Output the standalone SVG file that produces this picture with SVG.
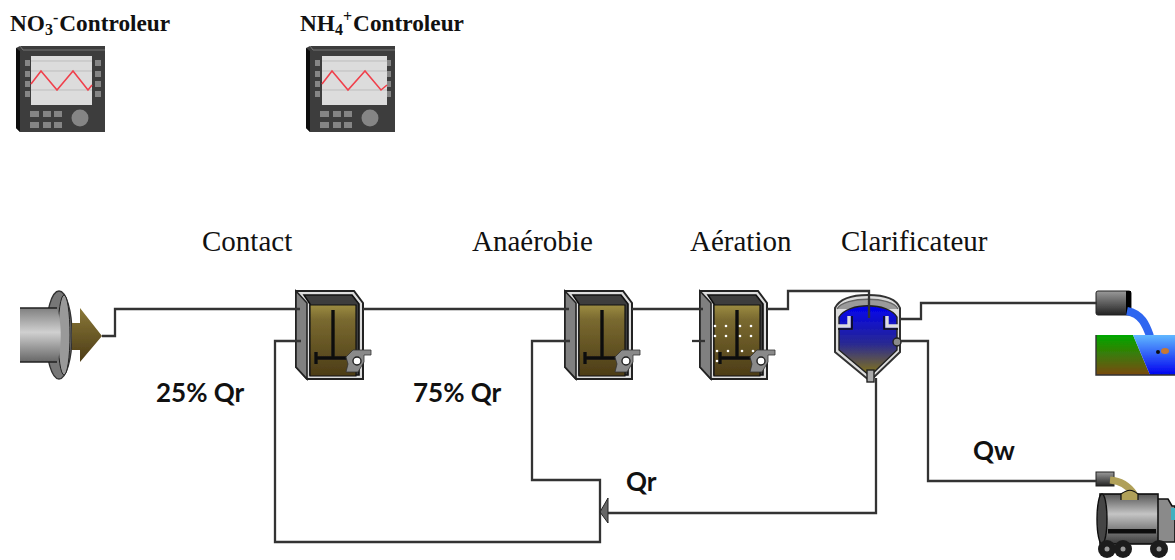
<svg xmlns="http://www.w3.org/2000/svg" width="1175" height="560" viewBox="0 0 1175 560">
<style>
.ser{font-family:"Liberation Serif","Times New Roman",serif;font-size:29px;fill:#111}
.ctl{font-family:"Liberation Serif","Times New Roman",serif;font-size:23.300px;font-weight:bold;fill:#111}
.sub{font-size:16px}
.lbl{font-family:Lato,"Open Sans",sans-serif;font-size:26px;font-weight:bold;fill:#111}
.conn{fill:none;stroke:#333;stroke-width:2.3}
.red{fill:none;stroke:#f0404c;stroke-width:1.6}
.btn{fill:#858585}
.soft{filter:url(#soft)}
</style>
<defs>
<filter id="soft" x="-5%" y="-5%" width="110%" height="110%"><feGaussianBlur stdDeviation="0.55"/></filter>
<linearGradient id="gOlive" x1="0" y1="0" x2="0" y2="1"><stop offset="0" stop-color="#9c8c42"/><stop offset=".2" stop-color="#7a6a30"/><stop offset="1" stop-color="#4c3c16"/></linearGradient>
<linearGradient id="gArrow" x1="0" y1="0" x2="0" y2="1"><stop offset="0" stop-color="#8a7838"/><stop offset="1" stop-color="#4c3c16"/></linearGradient>
<linearGradient id="gPipe" x1="0" y1="0" x2="0" y2="1"><stop offset="0" stop-color="#808080"/><stop offset=".45" stop-color="#d0d0d0"/><stop offset="1" stop-color="#666"/></linearGradient>
<linearGradient id="gDrum" x1="0" y1="0" x2="0" y2="1"><stop offset="0" stop-color="#555"/><stop offset=".4" stop-color="#c4c4c4"/><stop offset="1" stop-color="#3c3c3c"/></linearGradient>
<linearGradient id="gCap" x1="0" y1="0" x2="0" y2="1"><stop offset="0" stop-color="#9a9a9a"/><stop offset="1" stop-color="#222"/></linearGradient>
<linearGradient id="gClar" x1="0" y1="0" x2="0" y2="1"><stop offset="0" stop-color="#0000f0"/><stop offset=".55" stop-color="#2a2a90"/><stop offset="1" stop-color="#8a7a10"/></linearGradient>
<linearGradient id="gGreen" x1="0" y1="0" x2="0" y2="1"><stop offset="0" stop-color="#00a800"/><stop offset="1" stop-color="#7a4a10"/></linearGradient>
<linearGradient id="gBlue" x1="0" y1="0" x2="0" y2="1"><stop offset="0" stop-color="#60b8ff"/><stop offset="1" stop-color="#0000f0"/></linearGradient>
<g id="tank">
<path d="M0 1H58L67 13V89H11L0 77Z" fill="#ddd" stroke="#222" stroke-width="2"/>
<path d="M0 1L11 13V89L0 77Z" fill="#808080" stroke="#222" stroke-width="1.6"/>
<path d="M8 5H56L63 14V85H14V14Z" fill="#3c3c3c" stroke="#111" stroke-width="1.6"/>
<path d="M14 15H60V86H14Z" fill="url(#gOlive)" stroke="#111" stroke-width="1.2"/>
<path d="M37 20V68M20 68H54M20 62V74" fill="none" stroke="#111" stroke-width="3.4"/>
<path d="M50 67L57 60H75V65H68V72L62 82H50L52 74Z" fill="#8a8a8a" stroke="#333" stroke-width=".8"/>
<circle cx="61" cy="71" r="4" fill="#fff" stroke="#222" stroke-width="1.4"/>
</g>
<g id="ctlBody">
<path d="M0 2L4 0H89V86H4L0 82Z" fill="#3c3c3c"/>
<path d="M0 2L4 5V86L0 82Z" fill="#111"/>
<path d="M4 0L7 4H89" fill="none" stroke="#777" stroke-width="1"/>
<g class="btn"><rect x="9" y="14" width="5" height="6"/><rect x="9" y="25" width="5" height="6"/><rect x="9" y="35" width="5" height="6"/><rect x="9" y="45" width="5" height="6"/><rect x="79" y="14" width="6" height="6"/><rect x="79" y="25" width="6" height="6"/><rect x="79" y="35" width="6" height="6"/><rect x="79" y="45" width="6" height="6"/>
<rect x="14" y="65" width="9" height="6"/><rect x="27" y="65" width="8" height="6"/><rect x="38" y="65" width="8" height="6"/><rect x="14" y="76" width="9" height="6"/><rect x="27" y="76" width="8" height="6"/><rect x="38" y="76" width="8" height="6"/><circle cx="64" cy="72" r="8.500"/></g>
</g>
</defs>

<g id="ctl-no3">
<g class="soft"><use href="#ctlBody" x="16" y="46"/>
<rect x="31" y="56" width="61" height="49" fill="#dcdcdc"/>
<path d="M31 61H92M31 71H92M31 90H92" stroke="#bdbdbd" stroke-width="1" fill="none"/>
<polyline class="red" points="31,84 41,71 57,90 73,71 88,90 92,85"/></g>
<text class="ctl" x="10" y="31">NO<tspan class="sub" dy="4">3</tspan><tspan class="sub" dy="-12">-</tspan><tspan dx="1" dy="8">Controleur</tspan></text>
</g>
<g id="ctl-nh4">
<g class="soft"><use href="#ctlBody" x="306" y="46"/>
<rect x="322" y="56" width="65" height="49" fill="#dcdcdc"/>
<path d="M322 61H387M322 71H387M322 90H387" stroke="#bdbdbd" stroke-width="1" fill="none"/>
<polyline class="red" points="322,84 332,71 348,90 365,71 381,90 387,85"/></g>
<text class="ctl" x="300" y="31">NH<tspan class="sub" dy="4">4</tspan><tspan class="sub" dy="-13">+</tspan><tspan dx="1" dy="9">Controleur</tspan></text>
</g>

<g id="influent" class="soft">
<ellipse cx="59" cy="335" rx="13" ry="44" fill="#777" stroke="#333" stroke-width="1.4"/>
<ellipse cx="64" cy="335" rx="6" ry="40" fill="#999" stroke="#222" stroke-width="1"/>
<path d="M20 308H57C62 322 62 350 57 362H20Z" fill="url(#gPipe)"/>
<path d="M20 308H57M20 362H57" stroke="#222" stroke-width="1.4" fill="none"/>
<path d="M72 323H80V308L102 336L80 362V350H72Z" fill="url(#gArrow)"/>
</g>

<g id="contact" class="soft"><use href="#tank" x="296" y="290"/></g>
<g id="anaerobie" class="soft"><use href="#tank" x="565" y="290"/></g>
<g id="aeration" class="soft"><use href="#tank" x="700" y="290"/>
<g fill="#fff"><circle cx="715" cy="326" r="1.300"/><circle cx="726" cy="326" r="1.300"/><circle cx="740" cy="326" r="1.300"/><circle cx="751" cy="326" r="1.300"/><circle cx="715" cy="336" r="1.300"/><circle cx="726" cy="336" r="1.300"/><circle cx="740" cy="336" r="1.300"/><circle cx="751" cy="336" r="1.300"/><circle cx="717" cy="351" r="1.300"/><circle cx="728" cy="351" r="1.300"/><circle cx="742" cy="351" r="1.300"/><circle cx="753" cy="351" r="1.300"/><circle cx="717" cy="361" r="1.300"/></g>
</g>

<g id="clarificateur" class="soft">
<path d="M835 352V308C840 298 855 295 868 295C882 295 896 298 900 308V352L870 381Z" fill="#ddd" stroke="#333" stroke-width="2"/>
<path d="M837 309C844 296 892 296 898 309" fill="#9a9a9a" stroke="#666" stroke-width="1.400"/>
<path d="M839 350V317C848 302 888 302 897 317V350L870 376Z" fill="url(#gClar)" stroke="#222" stroke-width="1.400"/>
<path d="M838 326H849V316M898 326H887V316" fill="none" stroke="#ddd" stroke-width="3.400"/>
<path d="M838 329H852V316M898 329H884V316" fill="none" stroke="#111" stroke-width="1.600"/>
<circle cx="897" cy="342" r="4" fill="#8a8a8a" stroke="#222" stroke-width="1.400"/>
<rect x="867" y="370" width="7" height="12" fill="#aaa" stroke="#222" stroke-width="1.400"/>
</g>

<g id="effluent" class="soft">
<rect x="1096" y="291" width="35" height="24" rx="2" fill="url(#gCap)" stroke="#222" stroke-width="1"/>
<rect x="1126" y="291" width="5" height="24" fill="#000"/>
<path d="M1127 311C1142 314 1146 325 1150 336" fill="none" stroke="#2f66f0" stroke-width="8"/>
<path d="M1096 335H1133L1150 375H1096Z" fill="url(#gGreen)"/>
<path d="M1133 335H1175V375H1150Z" fill="url(#gBlue)"/>
<path d="M1096 335V375H1175" fill="none" stroke="#333" stroke-width="1.400"/>
<ellipse cx="1165" cy="351" rx="4" ry="3" fill="#c87830"/>
<circle cx="1158" cy="352" r="2" fill="#111"/>
</g>

<g id="camion" class="soft">
<path d="M1156 499H1168L1172 506H1175V542H1156Z" fill="#8a8a8a" stroke="#111" stroke-width="1.600"/>
<rect x="1171" y="508" width="4" height="12" fill="#40b0c0"/>
<rect x="1096" y="472" width="18" height="14" fill="url(#gCap)" stroke="#222" stroke-width="1"/>
<path d="M1110 480C1122 481 1130 488 1134 494" fill="none" stroke="#b0a058" stroke-width="7"/>
<rect x="1100" y="494" width="58" height="50" fill="url(#gDrum)" stroke="#111" stroke-width="1.600"/>
<ellipse cx="1102" cy="519" rx="5" ry="25" fill="#444" stroke="#111" stroke-width="1.400"/>
<path d="M1121 500V494C1128 489 1132 489 1138 494V500" fill="#b0a058" stroke="#111" stroke-width="1.200"/>
<rect x="1108" y="529" width="48" height="4.500" fill="#111"/>
<g fill="#1c1c1c"><circle cx="1107" cy="549" r="9"/><circle cx="1123" cy="549" r="9"/><circle cx="1159" cy="549" r="9"/></g>
<g fill="#999"><circle cx="1107" cy="549" r="2.500"/><circle cx="1123" cy="549" r="2.500"/><circle cx="1159" cy="549" r="2.500"/></g>
</g>

<g id="connectors">
<path class="conn" d="M102 336H115V309H300"/>
<path class="conn" d="M363 309H569"/>
<path class="conn" d="M632 309H703"/>
<path class="conn" d="M767 309H788V291H869V318"/>
<path class="conn" d="M692 341H705"/>
<path class="conn" d="M900 319H921V303H1097"/>
<path class="conn" d="M900 341H928V481H1097"/>
<path class="conn" d="M876 378V513H608"/>
<path class="conn" d="M570 341H532V480H600V542H275V341H301"/>
<polygon points="600,512 608,498 608,523" fill="#666" stroke="#222" stroke-width="1"/>
</g>

<g id="labels">
<text class="ser" x="202" y="251">Contact</text>
<text class="ser" x="472" y="251">Anaérobie</text>
<text class="ser" x="690" y="251">Aération</text>
<text class="ser" x="841" y="251">Clarificateur</text>
<text class="lbl" x="156" y="402">25% Qr</text>
<text class="lbl" x="413" y="402">75% Qr</text>
<text class="lbl" x="626" y="491">Qr</text>
<text class="lbl" x="973" y="460">Qw</text>
</g>
</svg>
